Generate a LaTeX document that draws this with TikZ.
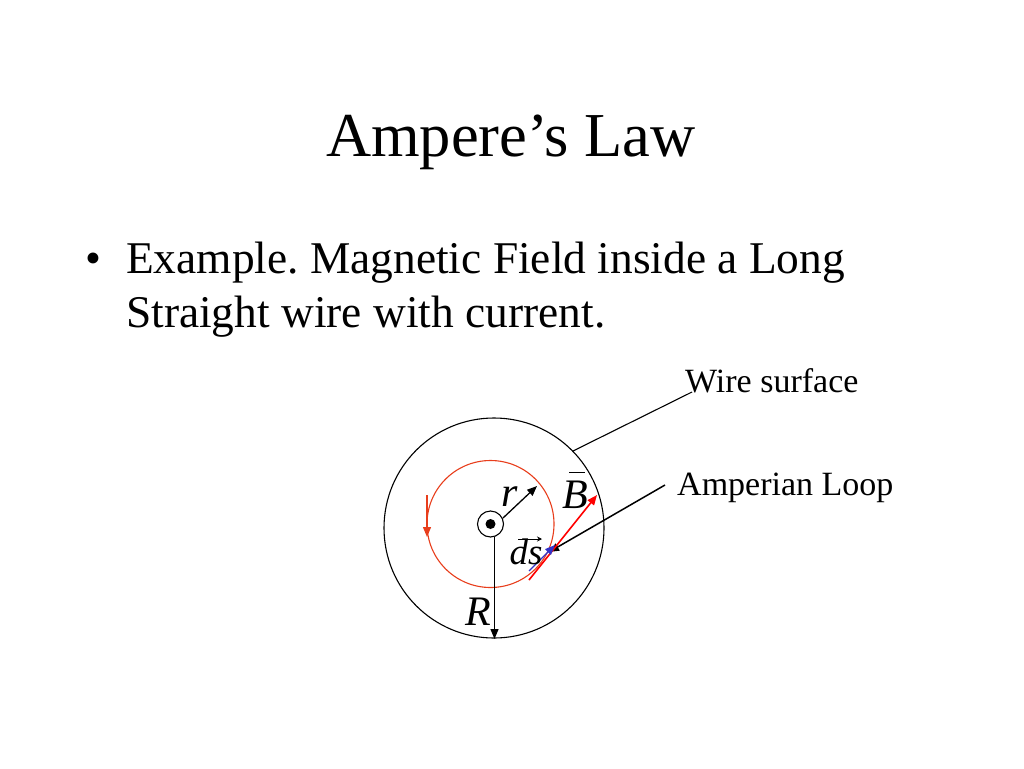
\documentclass[tikz,border=0pt]{standalone}
\usepackage{fontspec}
\setmainfont{Liberation Serif}
\usetikzlibrary{arrows.meta}
\frenchspacing
\tikzset{
  px/.style={x=1pt,y=-1pt},
  title/.style={font=\fontsize{62.5}{70}\selectfont,anchor=base,inner sep=0pt},
  body/.style={font=\fontsize{45.4}{54}\selectfont,anchor=base west,inner sep=0pt},
  lab/.style={font=\fontsize{34}{40}\selectfont,anchor=base west,inner sep=0pt},
  sym/.style={font=\fontsize{42}{46}\selectfont\itshape,anchor=base,inner sep=0pt},
  symsmall/.style={font=\fontsize{37}{40}\selectfont\itshape,anchor=base,inner sep=0pt},
  tipk/.style={-{Triangle[length=10pt,width=8pt]}},
}
\definecolor{redline}{RGB}{232,62,28}
\definecolor{bluev}{RGB}{50,50,200}
\begin{document}
\begin{tikzpicture}[px]
\useasboundingbox (0,0) rectangle (1024,768);
\node[title] (ttl) at (511,156) {Ampere’s Law};
\node[body] (b1) at (85,273) {•};
\node[body] (b2) at (126,273) {Example. Magnetic Field inside a Long};
\node[body] (b3) at (126,327) {Straight wire with current.};
\node[lab] (ws) at (685,392) {Wire surface};
\node[lab] (al) at (677,495) {Amperian Loop};

\node[draw=black,circle,line width=1.1pt,minimum size=220pt,inner sep=0pt] (wire) at (494,528) {};
\node[draw=redline,circle,line width=1.1pt,minimum size=127pt,inner sep=0pt] (loop) at (490.5,524) {};
\node[draw=black,circle,line width=1.1pt,fill=white,minimum size=26pt,inner sep=0pt] (core) at (490.5,524) {};
\node[fill=black,circle,minimum size=10pt,inner sep=0pt] (dot) at (490.5,524) {};

\coordinate (wsA) at (692,392);
\coordinate (wsB) at (573,451);
\coordinate (alA) at (665,485);
\coordinate (alB) at (549,552);
\coordinate (rA) at (503,518);
\coordinate (rB) at (537,486);
\coordinate (RA) at (494.5,537);
\coordinate (RB) at (494.5,639);
\coordinate (BA) at (529,580);
\coordinate (BB) at (597,495);
\coordinate (sA) at (529,571);
\coordinate (sB) at (555,545);
\coordinate (arA) at (427,495);
\coordinate (arB) at (427,537);

\draw[line width=1.1pt] (wsA) -- (wsB);
\draw[line width=1.5pt,tipk] (alA) -- (alB);
\draw[line width=1.3pt,tipk] (rA) -- (rB);
\draw[line width=1.3pt,tipk] (RA) -- (RB);
\draw[red,line width=1.6pt,tipk] (BA) -- (BB);
\draw[bluev,line width=1.3pt,tipk] (sA) -- (sB);
\draw[redline,line width=1.3pt,tipk] (arA) -- (arB);

\node[sym] (rr) at (510,506) {r};
\node[sym] (RR) at (478,625) {R};
\node[sym] (BL) at (575,508) {B};
\draw[line width=1pt] (569,472) -- (585,472);
\node[symsmall] (ds) at (526,564) {ds};
\draw[line width=0.9pt,-{Stealth[length=5pt,width=5pt]}] (518,539) -- (542,539);
\end{tikzpicture}
\end{document}
